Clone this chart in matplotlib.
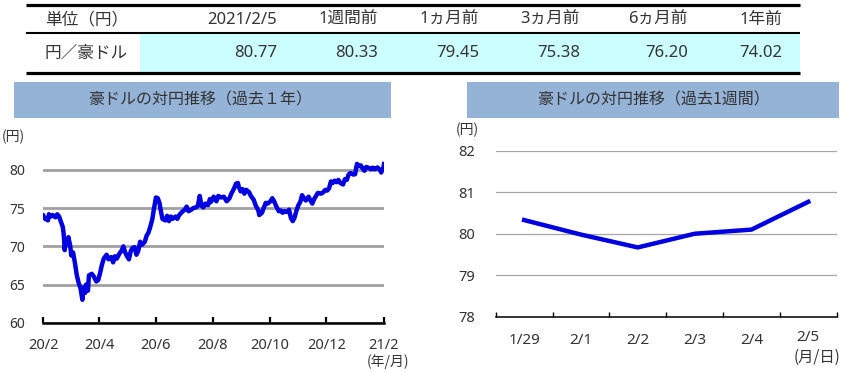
import matplotlib
matplotlib.use("Agg")
import matplotlib.pyplot as plt
import matplotlib.ticker as mticker
import matplotlib.transforms as mtransforms
from matplotlib.patches import Rectangle
import pandas as pd

plt.rcParams['font.family'] = ['Noto Sans', 'Noto Sans CJK JP', 'DejaVu Sans']

# table
tab_headers = ['単位（円）', '2021/2/5', '1週間前', '1ヵ月前', '3ヵ月前', '6ヵ月前', '1年前']
tab_row = '円／豪ドル'
tab_vals = [80.77, 80.33, 79.45, 75.38, 76.20, 74.02]

# 1 year
yr_dates = [
    '2020-02-05', '2020-02-07', '2020-02-10', '2020-02-11', '2020-02-13', '2020-02-15', '2020-02-18', '2020-02-20',
    '2020-02-22', '2020-02-24', '2020-02-26', '2020-02-27', '2020-02-28', '2020-02-29', '2020-03-02', '2020-03-03',
    '2020-03-05', '2020-03-06', '2020-03-08', '2020-03-10', '2020-03-12', '2020-03-14', '2020-03-16', '2020-03-18',
    '2020-03-19', '2020-03-21', '2020-03-22', '2020-03-24', '2020-03-25', '2020-03-28', '2020-03-30', '2020-04-02',
    '2020-04-04', '2020-04-06', '2020-04-08', '2020-04-10', '2020-04-13', '2020-04-15', '2020-04-18', '2020-04-20',
    '2020-04-22', '2020-04-24', '2020-04-27', '2020-04-29', '2020-05-01', '2020-05-03', '2020-05-05', '2020-05-07',
    '2020-05-09', '2020-05-11', '2020-05-13', '2020-05-15', '2020-05-17', '2020-05-19', '2020-05-21', '2020-05-24',
    '2020-05-26', '2020-05-28', '2020-05-30', '2020-06-01', '2020-06-03', '2020-06-05', '2020-06-07', '2020-06-09',
    '2020-06-10', '2020-06-12', '2020-06-15', '2020-06-17', '2020-06-19', '2020-06-21', '2020-06-23', '2020-06-26',
    '2020-06-28', '2020-06-30', '2020-07-03', '2020-07-06', '2020-07-08', '2020-07-10', '2020-07-13', '2020-07-15',
    '2020-07-18', '2020-07-20', '2020-07-22', '2020-07-24', '2020-07-26', '2020-07-28', '2020-07-31', '2020-08-02',
    '2020-08-03', '2020-08-05', '2020-08-06', '2020-08-09', '2020-08-11', '2020-08-14', '2020-08-17', '2020-08-20',
    '2020-08-23', '2020-08-25', '2020-08-28', '2020-08-30', '2020-09-01', '2020-09-02', '2020-09-04', '2020-09-06',
    '2020-09-08', '2020-09-10', '2020-09-13', '2020-09-15', '2020-09-18', '2020-09-20', '2020-09-23', '2020-09-24',
    '2020-09-27', '2020-09-29', '2020-10-01', '2020-10-03', '2020-10-06', '2020-10-08', '2020-10-10', '2020-10-12',
    '2020-10-15', '2020-10-17', '2020-10-19', '2020-10-21', '2020-10-24', '2020-10-26', '2020-10-28', '2020-10-30',
    '2020-11-01', '2020-11-03', '2020-11-05', '2020-11-07', '2020-11-09', '2020-11-11', '2020-11-13', '2020-11-16',
    '2020-11-18', '2020-11-20', '2020-11-22', '2020-11-24', '2020-11-26', '2020-11-29', '2020-12-01', '2020-12-04',
    '2020-12-06', '2020-12-08', '2020-12-10', '2020-12-12', '2020-12-14', '2020-12-16', '2020-12-18', '2020-12-20',
    '2020-12-23', '2020-12-25', '2020-12-27', '2020-12-29', '2020-12-31', '2021-01-03', '2021-01-05', '2021-01-06',
    '2021-01-07', '2021-01-09', '2021-01-11', '2021-01-13', '2021-01-15', '2021-01-17', '2021-01-19', '2021-01-22',
    '2021-01-24', '2021-01-26', '2021-01-29', '2021-02-01', '2021-02-02', '2021-02-03', '2021-02-04', '2021-02-05',
]
yr_vals = [
    74.02, 73.6, 73.4, 74.2, 73.9, 74.1, 73.8, 74.2,
    73.9, 73.2, 72.5, 71.5, 69.5, 70.8, 70.2, 71.2,
    70.0, 68.8, 69.2, 67.8, 66.2, 65.2, 64.5, 63.0,
    64.6, 63.9, 65.0, 64.2, 66.2, 66.4, 66.1, 65.4,
    65.6, 66.5, 67.6, 68.4, 68.9, 68.3, 68.6, 67.9,
    68.7, 68.4, 69.1, 69.4, 70.0, 69.2, 68.7, 68.3,
    69.4, 69.8, 69.9, 68.9, 69.4, 70.6, 70.2, 70.6,
    71.4, 71.8, 72.6, 73.5, 75.0, 76.4, 76.3, 75.6,
    74.8, 73.6, 73.4, 74.0, 73.3, 73.9, 73.6, 73.9,
    73.6, 74.1, 74.5, 74.8, 75.2, 74.6, 74.8, 75.0,
    75.1, 75.3, 76.6, 75.3, 75.1, 75.6, 75.4, 76.2,
    75.8, 76.20, 76.5, 75.9, 76.6, 76.4, 76.5, 75.9,
    76.3, 76.9, 77.6, 78.2, 78.3, 77.8, 77.2, 77.5,
    76.9, 77.4, 77.1, 76.6, 76.1, 75.4, 74.7, 74.1,
    74.4, 75.1, 75.7, 75.6, 75.9, 76.3, 75.9, 75.3,
    74.6, 74.7, 74.4, 74.6, 74.5, 74.8, 73.7, 73.3,
    73.8, 74.7, 75.38, 75.8, 76.7, 76.3, 76.0, 76.5,
    76.0, 75.6, 76.2, 76.6, 77.0, 76.9, 77.0, 77.4,
    77.3, 77.6, 78.5, 78.3, 78.6, 78.4, 78.7, 78.3,
    78.1, 78.8, 78.7, 79.4, 79.6, 79.4, 79.45, 80.2,
    80.8, 80.5, 80.6, 80.2, 79.9, 80.4, 80.3, 80.1,
    80.3, 80.1, 80.33, 79.98, 79.67, 80.00, 80.10, 80.77,
]
yr_ticks = ['2020-02-05', '2020-04-05', '2020-06-05', '2020-08-05', '2020-10-05', '2020-12-05', '2021-02-05']

# 1 week
wk_labels = ['1/29', '2/1', '2/2', '2/3', '2/4', '2/5']
wk_vals = [80.33, 79.98, 79.67, 80.00, 80.10, 80.77]

blue = '#0000E0'
band = '#95B3D7'
txt = '#333333'
jp = ['Noto Sans CJK JP', 'DejaVu Sans']

fig = plt.figure(figsize=(8.49, 3.72), dpi=100)
W, H = 849, 372

# overlay in pixel coords for table and banners
ov = fig.add_axes([0, 0, 1, 1])
ov.set_xlim(0, W)
ov.set_ylim(H, 0)
ov.axis('off')

ov.add_patch(Rectangle((140, 33.5), 660, 38.5, color='#CCFFFF', lw=0))
ov.plot([26, 800], [5, 5], color='black', lw=2.3, solid_capstyle='butt')
ov.plot([26, 800], [32.5, 32.5], color='black', lw=1.5, solid_capstyle='butt')
ov.plot([26, 800], [73, 73], color='black', lw=2.3, solid_capstyle='butt')

col_x = [277, 378, 479, 580, 688, 782]
ov.text(45, 20, tab_headers[0], ha='left', va='center', fontsize=12, color=txt, family=jp)
ov.text(45, 53, tab_row, ha='left', va='center', fontsize=12, color=txt, family=jp)
for x, h, v in zip(col_x, tab_headers[1:], tab_vals):
    ov.text(x, 20, h, ha='right', va='center', fontsize=12, color=txt)
    ov.text(x, 53, f'{v:.2f}', ha='right', va='center', fontsize=12, color=txt)

# banners
ov.add_patch(Rectangle((14, 82), 377, 35.5, color=band, lw=0))
ov.text(200, 100, '豪ドルの対円推移（過去１年）', ha='center', va='center', fontsize=11.5, color=txt, family=jp)
ov.add_patch(Rectangle((467, 82), 372, 35.5, color=band, lw=0))
ov.text(653, 100, '豪ドルの対円推移（過去1週間）', ha='center', va='center', fontsize=11.5, color=txt, family=jp)

ov.text(13, 137, '(円)', ha='center', va='center', fontsize=10, color=txt, family=jp)
ov.text(388, 362, '(年/月)', ha='center', va='center', fontsize=10, color=txt, family=jp)
ov.text(467, 130, '(円)', ha='center', va='center', fontsize=10, color=txt, family=jp)
ov.text(817, 357, '(月/日)', ha='center', va='center', fontsize=11, color=txt, family=jp)

# left chart
ax1 = fig.add_axes([43.3 / W, 1 - 322.7 / H, 340.7 / W, 168 / H])
ax1.set_facecolor('none')
ax1.plot(pd.to_datetime(yr_dates), yr_vals, color=blue, lw=3.2, solid_joinstyle='round')
ax1.set_xlim(pd.Timestamp('2020-02-05'), pd.Timestamp('2021-02-05'))
ax1.set_ylim(60, 82)
ax1.set_yticks([60, 65, 70, 75, 80])
ax1.yaxis.grid(True, color='#A0A0A0', lw=2)
ax1.set_axisbelow(True)
tick_dates = pd.to_datetime(yr_ticks)
ax1.set_xticks(tick_dates)
ax1.set_xticklabels([f'{d.year % 100}/{d.month}' for d in tick_dates])
for s in ['left', 'right', 'top']:
    ax1.spines[s].set_visible(False)
ax1.spines['bottom'].set_linewidth(1.8)
ax1.tick_params(axis='y', length=0, pad=13, labelsize=10, labelcolor=txt)
ax1.tick_params(axis='x', direction='in', length=4.5, width=1.6, pad=11, labelsize=10.5, labelcolor=txt)

# right chart
ax2 = fig.add_axes([495.7 / W, 1 - 316.7 / H, 341 / W, 165.9 / H])
ax2.set_facecolor('none')
xs = range(len(wk_vals))
ax2.plot(xs, wk_vals, color=blue, lw=3.2, solid_joinstyle='round')
ax2.set_xlim(-0.5, len(wk_vals) - 0.5)
ax2.set_ylim(78, 82)
ax2.set_yticks([78, 79, 80, 81, 82])
ax2.yaxis.grid(True, color='#A6A6A6', lw=0.9)
ax2.set_axisbelow(True)
ax2.set_xticks(list(xs))
ax2.set_xticklabels(wk_labels)
ax2.xaxis.set_minor_locator(mticker.FixedLocator([i - 0.5 for i in range(len(wk_vals) + 1)]))
for s in ['left', 'right', 'top']:
    ax2.spines[s].set_visible(False)
ax2.spines['bottom'].set_linewidth(1.1)
ax2.tick_params(axis='y', length=0, pad=15, labelsize=10.5, labelcolor=txt)
ax2.tick_params(axis='x', which='major', length=0, pad=12, labelsize=11, labelcolor=txt)
ax2.tick_params(axis='x', which='minor', direction='in', length=3.3, width=1.0)
# last date label sits a little higher, above the unit note
last = ax2.get_xticklabels()[-1]
last.set_transform(last.get_transform() + mtransforms.ScaledTranslation(0, 3 / 100, fig.dpi_scale_trans))

fig.savefig('out.png', dpi=100)
